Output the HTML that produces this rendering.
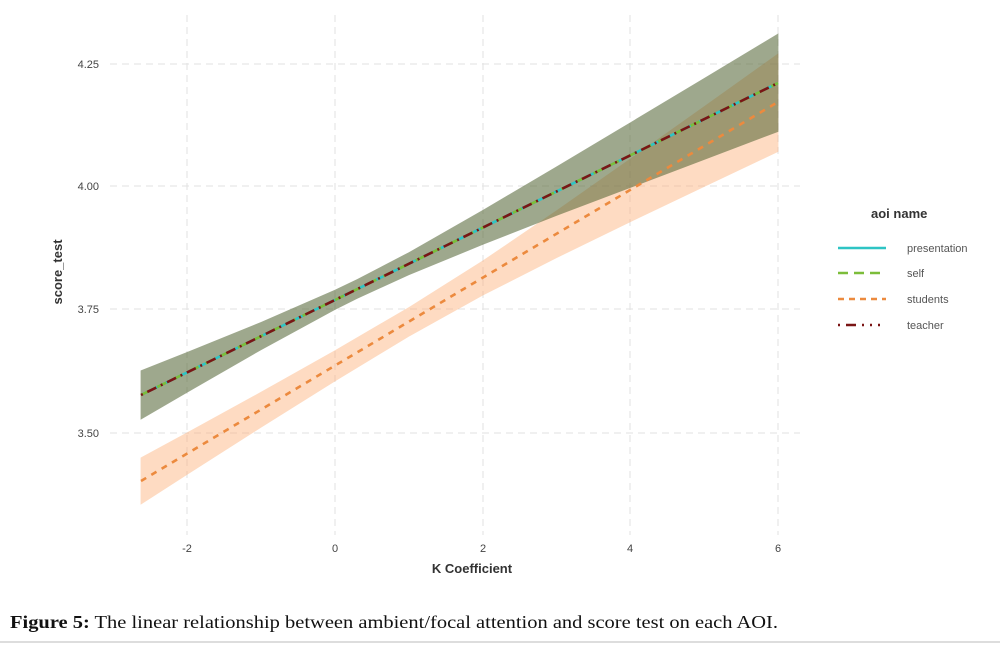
<!DOCTYPE html>
<html><head><meta charset="utf-8"><style>
html,body{margin:0;padding:0;background:#fff;}
body{width:1000px;height:645px;overflow:hidden;position:relative;}
</style></head><body>
<svg width="1000" height="645" viewBox="0 0 1000 645" xmlns="http://www.w3.org/2000/svg" style="position:absolute;left:0;top:0">
<g stroke="#e2e2e2" stroke-width="1" stroke-dasharray="7,5">
<line x1="110" y1="64" x2="800" y2="64"/>
<line x1="110" y1="186" x2="800" y2="186"/>
<line x1="110" y1="309" x2="800" y2="309"/>
<line x1="110" y1="433" x2="800" y2="433"/>
<line x1="187" y1="15" x2="187" y2="535"/>
<line x1="335" y1="15" x2="335" y2="535"/>
<line x1="483" y1="15" x2="483" y2="535"/>
<line x1="630" y1="15" x2="630" y2="535"/>
<line x1="778" y1="15" x2="778" y2="535"/>
</g>
<polygon fill="rgb(253,170,110)" fill-opacity="0.42" points="140.6,457.6 187.2,432.4 261.1,391.8 335,350.2 408.9,307.1 482.8,260.5 556.7,210.3 630.6,158.4 704.5,106 778.4,53.3 778.4,151.7 704.5,186.7 630.6,222 556.7,258 482.8,295.5 408.9,336.6 335,381.4 261.1,427.6 187.2,474.7 140.6,504.8"/>
<polygon fill="rgb(78,96,48)" fill-opacity="0.55" points="140.6,370.5 187.2,352 261.1,322 335,289.7 357.2,279.1 408.9,252.2 482.8,210 556.7,166.4 630.6,122.2 704.5,77.9 778.4,33.4 778.4,131.7 704.5,159.7 630.6,187.8 556.7,215.8 482.8,244.8 408.9,275.1 357.2,298.8 335,309.9 261.1,350.1 187.2,392.6 140.6,419.7"/>
<line x1="141" y1="481" x2="778" y2="102" stroke="#ec8a3e" stroke-width="2.6" stroke-dasharray="6,6"/>
<line x1="141" y1="395" x2="778" y2="83" stroke="#2ec4c4" stroke-width="2.6"/>
<line x1="141" y1="395" x2="778" y2="83" stroke="#7cbd3a" stroke-width="2.6" stroke-dasharray="10,8"/>
<line x1="141" y1="395" x2="778" y2="83" stroke="#7a1515" stroke-width="2.6" stroke-dasharray="2,5,10,5"/>
<g font-family="Liberation Sans, sans-serif" font-size="11" fill="#444">
<text x="99" y="68" text-anchor="end">4.25</text>
<text x="99" y="190" text-anchor="end">4.00</text>
<text x="99" y="313" text-anchor="end">3.75</text>
<text x="99" y="437" text-anchor="end">3.50</text>
<text x="187" y="552" text-anchor="middle">-2</text>
<text x="335" y="552" text-anchor="middle">0</text>
<text x="483" y="552" text-anchor="middle">2</text>
<text x="630" y="552" text-anchor="middle">4</text>
<text x="778" y="552" text-anchor="middle">6</text>
</g>
<text x="472" y="573" text-anchor="middle" font-family="Liberation Sans, sans-serif" font-size="13" font-weight="bold" fill="#333">K Coefficient</text>
<text transform="translate(62,272) rotate(-90)" text-anchor="middle" font-family="Liberation Sans, sans-serif" font-size="13" font-weight="bold" fill="#333">score_test</text>
<text x="871" y="218" font-family="Liberation Sans, sans-serif" font-size="13" font-weight="bold" fill="#333">aoi  name</text>
<line x1="838" y1="248" x2="886" y2="248" stroke="#2ec4c4" stroke-width="2.6"/>
<line x1="838" y1="273" x2="886" y2="273" stroke="#7cbd3a" stroke-width="2.6" stroke-dasharray="10,6"/>
<line x1="838" y1="299" x2="886" y2="299" stroke="#ec8a3e" stroke-width="2.6" stroke-dasharray="6,5"/>
<line x1="838" y1="325" x2="886" y2="325" stroke="#7a1515" stroke-width="2.6" stroke-dasharray="2,6,10,6,2,6,2,6"/>
<g font-family="Liberation Sans, sans-serif" font-size="11" fill="#555">
<text x="907" y="252">presentation</text>
<text x="907" y="277">self</text>
<text x="907" y="303">students</text>
<text x="907" y="329">teacher</text>
</g>
<text x="10" y="628" font-family="Liberation Serif, serif" font-size="18" fill="#111" textLength="768" lengthAdjust="spacingAndGlyphs"><tspan font-weight="bold">Figure 5:</tspan> The linear relationship between ambient/focal attention and score test on each AOI.</text>
<line x1="0" y1="642" x2="1000" y2="642" stroke="#ddd" stroke-width="2"/>
</svg>
</body></html>
